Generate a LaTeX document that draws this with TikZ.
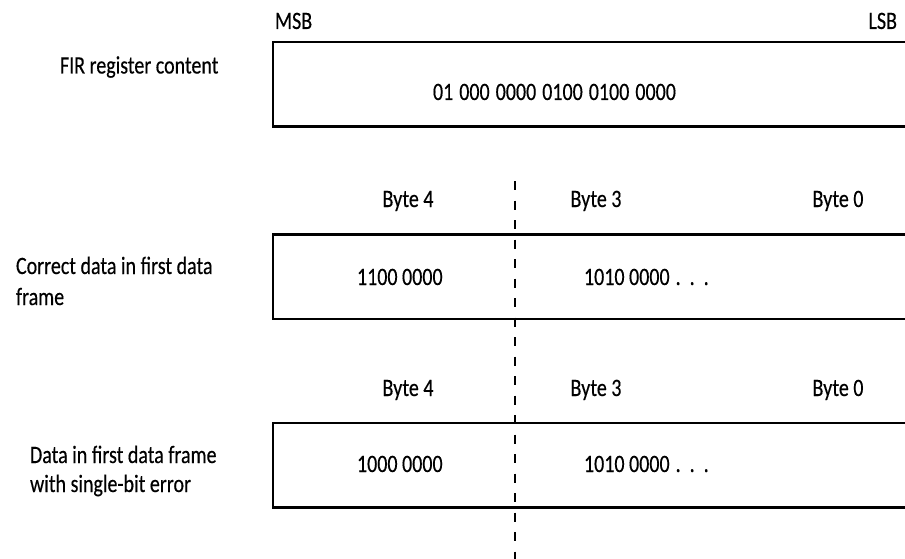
\documentclass[tikz,border=0pt]{standalone}
\usepackage{fontspec}
\setmainfont[FakeStretch=0.8,FakeBold=0.35]{Carlito}
\begin{document}
\begin{tikzpicture}[x=1pt,y=-1pt,
  font=\fontsize{25}{30}\selectfont,
  txt/.style={inner sep=0pt, outer sep=0pt},
  regbox/.style={draw, line width=2.8pt, inner sep=0pt, outer sep=0pt,
    anchor=north west, minimum width=660pt, minimum height=84.5pt},
  divider/.style={line width=2.3pt, dash pattern=on 9pt off 10.5pt}]
\useasboundingbox (0,0) rectangle (905,559);
\clip (0,0) rectangle (905,559);
% boxes
\node[regbox] (fir)   at (273,42)    {};
\node[regbox] (good)  at (273,234.5) {};
\node[regbox] (bad)   at (273,423)   {};
% divider
\coordinate (dtop) at (515,181);
\coordinate (dbot) at (515,565);
\draw[divider] (dtop) -- (dbot);
% header
\node[txt, anchor=base west] (msb) at (275,29) {MSB};
\node[txt, anchor=base east] (lsb) at (897,29) {LSB};
% row 1
\node[txt, anchor=base west] (firlbl) at (60,73.5) {FIR register content};
\node[txt, anchor=base west] (firval) at (433,100) {\spaceskip=6pt 01 000 0000 0100 0100 0000};
% row 2
\node[txt, anchor=base] (b4a) at (408,207) {Byte 4};
\node[txt, anchor=base] (b3a) at (596,207) {Byte 3};
\node[txt, anchor=base] (b0a) at (838,207) {Byte 0};
\node[txt, anchor=base west] (gl1) at (16,274) {Correct data in first data};
\node[txt, anchor=base west] (gl2) at (16,305) {frame};
\node[txt, anchor=base west] (gv1) at (357,285) {1100 0000};
\node[txt, anchor=base west] (gv2) at (584,285) {1010 0000\hspace{6pt}.\hspace{9pt}.\hspace{9pt}.};
% row 3
\node[txt, anchor=base] (b4b) at (408,396) {Byte 4};
\node[txt, anchor=base] (b3b) at (596,396) {Byte 3};
\node[txt, anchor=base] (b0b) at (838,396) {Byte 0};
\node[txt, anchor=base west] (bl1) at (30,463) {Data in first data frame};
\node[txt, anchor=base west] (bl2) at (30,492) {with single-bit error};
\node[txt, anchor=base west] (bv1) at (357,472) {1000 0000};
\node[txt, anchor=base west] (bv2) at (584,472) {1010 0000\hspace{6pt}.\hspace{9pt}.\hspace{9pt}.};
\end{tikzpicture}
\end{document}
